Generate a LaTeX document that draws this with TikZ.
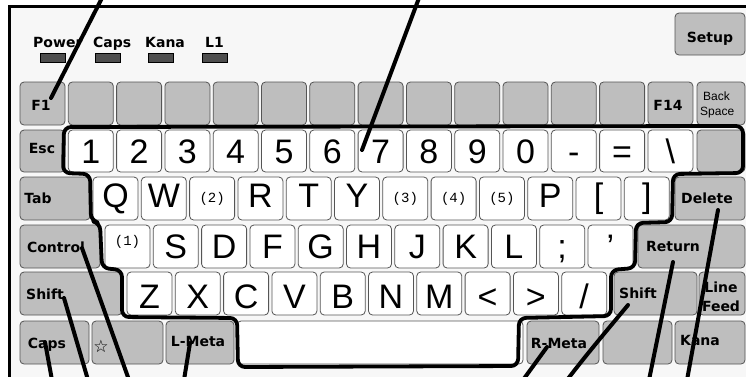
\documentclass[tikz,border=0pt]{standalone}
\usepackage{fontspec}
\usepackage{graphicx}
\setmainfont{Liberation Sans}
\newfontfamily\dv{DejaVu Sans}
\newfontfamily\lm{Liberation Mono}
\definecolor{keygray}{HTML}{BEBEBE}
\definecolor{bgc}{HTML}{F7F7F7}
\definecolor{keyedge}{HTML}{555555}
\definecolor{ledc}{HTML}{4E4E4E}
\newcommand\sm[2][5pt]{\raisebox{#1}{\lm\fontsize{14}{16}\selectfont(#2)}}
\newcommand\K[6]{\node[#6, minimum width={(#4)-(#2)}, minimum height={(#5)-(#3)}] (#1) at ({((#2)+(#4))/2},{((#3)+(#5))/2}) {};}
\tikzset{
 gkey/.style={draw=keyedge, fill=keygray, rounded corners=4pt, line width=0.8pt, inner sep=0pt, outer sep=0pt},
 wkey/.style={draw=keyedge, fill=white, rounded corners=4pt, line width=0.8pt, inner sep=0pt, outer sep=0pt},
 big/.style={font=\fontsize{34}{36}\selectfont, inner sep=0pt},
 lab/.style={font=\dv\bfseries\fontsize{14}{16}\selectfont, inner sep=0pt},
 small/.style={font=\fontsize{12}{12}\selectfont, inner sep=0pt},
 ledbox/.style={draw=black, fill=ledc, line width=0.8pt, inner sep=0pt},
 outl/.style={line width=3.8pt, rounded corners=7pt, line join=round},
 ptr/.style={line width=4pt, line cap=round},
}
\begin{document}
\begin{tikzpicture}[x=1pt,y=-1pt]
\useasboundingbox (0,0) rectangle (746,376);
\fill[white] (0,0) rectangle (746,376);
\begin{scope}
\clip (0,0) rectangle (746,376);
\draw[line width=2.8pt, fill=bgc] (9.5,6.5) rectangle (800,420);
\end{scope}
% indicators
\foreach \n/\x/\lx/\lbl in {pw/40/33/Power, cp/95/93/Caps, kn/148/145/Kana, li/202/205/L1} {
 \node[lab, anchor=base west] (lab\n) at (\lx,47) {\lbl};
 \node[ledbox, minimum width=25, minimum height=9] (led\n) at ({\x+12.5},57.5) {};
}
% setup
\K{setup}{675}{13}{745}{55}{gkey}
\node[lab, anchor=base] (lsetup) at (710,42) {Setup};
% F row
\foreach \i in {0,...,13}{\pgfmathsetmacro\xa{20+48.3*\i}\K{f\i}{\xa}{82}{\xa+45}{125}{gkey}}
\K{bs}{697}{82}{745}{125}{gkey}
\node[lab, anchor=base] (lf1) at (41,110) {F1};
\node[lab, anchor=base] (lf14) at (668,110) {F14};
\node[small, anchor=base west] (lback) at (703,100) {Back};
\node[small, anchor=base west] (lspace) at (700,115) {Space};
% number row
\K{esc}{20}{130}{65}{172}{gkey}
\foreach \i in {1,...,13}{\pgfmathsetmacro\xa{20+48.3*\i}\K{n\i}{\xa}{130}{\xa+45}{172}{wkey}}
\K{nb}{697}{130}{745}{172}{gkey}
\node[lab, anchor=base] (lesc) at (42,153) {Esc};
\foreach \lbl [count=\i] in {1,2,3,4,5,6,7,8,9,0,-,=,\textbackslash}
 \node[big, anchor=base] (tn\i) at ([yshift=-12pt]n\i.center) {\lbl};
% Q row
\K{tab}{20}{177}{90}{220}{gkey}
\foreach \i in {0,...,11}{\pgfmathsetmacro\xa{93+48.3*\i}\K{q\i}{\xa}{177}{\xa+45}{220}{wkey}}
\K{del}{675}{177}{745}{220}{gkey}
\node[lab, anchor=base] (ltab) at (38,203) {Tab};
\node[lab, anchor=base] (ldel) at (707,203) {Delete};
\foreach \lbl [count=\i from 0] in {Q,W,{\sm{2}},R,T,Y,{\sm{3}},{\sm{4}},{\sm{5}},P,{[},{]}}
 \node[big, anchor=base] (tq\i) at ([yshift=-8.5pt]q\i.center) {\lbl};
% A row
\K{ctrl}{20}{225}{100}{268}{gkey}
\foreach \i in {0,...,10}{\pgfmathsetmacro\xa{105+48.3*\i}\K{a\i}{\xa}{225}{\xa+45}{268}{wkey}}
\K{ret}{638}{225}{745}{268}{gkey}
\node[lab, anchor=base] (lctrl) at (56,252) {Control};
\node[lab, anchor=base] (lret) at (673,251) {Return};
\foreach \lbl [count=\i from 0] in {{\sm[13pt]{1}},S,D,F,G,H,J,K,L,;,’}
 \node[big, anchor=base] (ta\i) at ([yshift=-11.5pt]a\i.center) {\lbl};
% Z row
\K{lsh}{20}{272}{122}{315}{gkey}
\foreach \i in {0,...,9}{\pgfmathsetmacro\xa{127+48.3*\i}\K{z\i}{\xa}{272}{\xa+45}{315}{wkey}}
\K{rsh}{614}{272}{697}{315}{gkey}
\K{lf}{699}{272}{745}{315}{gkey}
\node[lab, anchor=base] (llsh) at (45,299) {Shift};
\node[lab, anchor=base] (lrsh) at (638,298) {Shift};
\node[lab, anchor=base] (lline) at (721,292) {Line};
\node[lab, anchor=base] (lfeed) at (721,311) {Feed};
\foreach \lbl [count=\i from 0] in {Z,X,C,V,B,N,M,<,>,/}
 \node[big, anchor=base] (tz\i) at ([yshift=-15pt]z\i.center) {\lbl};
% bottom row
\K{caps}{20}{321}{89}{364}{gkey}
\K{star}{92}{321}{163}{364}{gkey}
\K{lmeta}{166}{321}{234}{364}{gkey}
\K{space}{237}{321}{523}{364}{wkey}
\K{rmeta}{527}{321}{599}{364}{gkey}
\K{blank}{603}{321}{672}{364}{gkey}
\K{kana}{675}{321}{745}{364}{gkey}
\node[lab, anchor=base] (lcaps) at (47,348) {Caps};
\node[font=\dv\fontsize{17}{18}\selectfont, inner sep=0pt, anchor=base] (lstar) at (101,352) {☆};
\node[lab, anchor=base] (llmeta) at (198,346) {L-Meta};
\node[lab, anchor=base] (lrmeta) at (559,348) {R-Meta};
\node[lab, anchor=base] (lkana) at (700,345) {Kana};
% hand-drawn outline
\draw[outl] (64,127) -- (743,126) -- (743,173) -- (673,174) -- (672,222) -- (636,223)
 -- (635,268) -- (611,270) -- (611,316) -- (519,318) -- (518,366) -- (238,367)
 -- (237,318) -- (122,317) -- (122,270) -- (102,268) -- (100,223) -- (91,221)
 -- (90,174) -- (63,173) -- cycle;
% pointer lines
\coordinate (tA) at (102,-2); \coordinate (eA) at (51,98);
\coordinate (tB) at (419,-2); \coordinate (eB) at (362,150);
\coordinate (eCaps) at (45,342); \coordinate (bCaps) at (52,380);
\coordinate (eLsh) at (64,298); \coordinate (bLsh) at (88,380);
\coordinate (eCtrl) at (82,248); \coordinate (bCtrl) at (129,380);
\coordinate (eLm) at (190,343); \coordinate (bLm) at (184,380);
\coordinate (eRm) at (547,347); \coordinate (bRm) at (523,380);
\coordinate (eRs) at (628,305); \coordinate (bRs) at (567,380);
\coordinate (eRet) at (673,262); \coordinate (bRet) at (649,380);
\coordinate (eDel) at (718,210); \coordinate (bDel) at (687,380);
\draw[ptr] (tA) -- (eA);
\draw[ptr] (tB) -- (eB);
\draw[ptr] (eCaps) -- (bCaps);
\draw[ptr] (eLsh) -- (bLsh);
\draw[ptr] (eCtrl) -- (bCtrl);
\draw[ptr] (eLm) -- (bLm);
\draw[ptr] (eRm) -- (bRm);
\draw[ptr] (eRs) .. controls (614,322) and (590,350) .. (bRs);
\draw[ptr] (eRet) -- (bRet);
\draw[ptr] (eDel) -- (bDel);
\end{tikzpicture}
\end{document}
